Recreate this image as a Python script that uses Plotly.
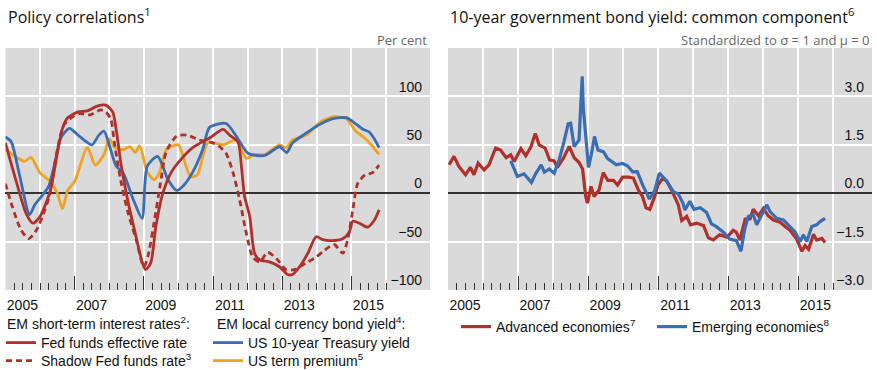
import plotly.graph_objects as go

# ---------------- Policy correlations (per cent) ----------------
FFR_T = [2005.0, 2005.3, 2005.6, 2005.8, 2006.0, 2006.3, 2006.5, 2006.65, 2006.8, 2007.1,
         2007.37, 2007.65, 2007.9, 2008.1, 2008.2, 2008.35, 2008.55, 2008.75, 2008.95, 2009.05,
         2009.2, 2009.35, 2009.55, 2009.8, 2010.1, 2010.45, 2010.9, 2011.29, 2011.48, 2011.72,
         2011.82, 2011.91, 2012.06, 2012.2, 2012.35, 2012.63, 2012.92, 2013.16, 2013.3, 2013.5,
         2013.74, 2013.98, 2014.17, 2014.41, 2014.75, 2014.94, 2015.04, 2015.23, 2015.47, 2015.66,
         2015.8]
FFR_V = [52, 14, -21, -31, -24, 3, 41, 67, 78, 84,
         85, 90, 91, 84, 66, 28, -10, -41, -71, -79,
         -72, -34, 0, 22, 36, 48, 57, 66, 60, 53,
         28, -3, -24, -62, -69, -71, -76, -84, -84, -76,
         -62, -45, -48, -49, -47, -40, -29, -31, -35, -28,
         -17]

SHADOW_T = [2005.0, 2005.2, 2005.45, 2005.67, 2005.9, 2006.07, 2006.27, 2006.5, 2006.7, 2007.1,
            2007.45, 2007.75, 2007.9, 2008.05, 2008.15, 2008.35, 2008.55, 2008.78, 2009.0, 2009.12,
            2009.28, 2009.48, 2009.65, 2009.95, 2010.25, 2010.6, 2011.0, 2011.19, 2011.38, 2011.58,
            2011.77, 2011.96, 2012.15, 2012.35, 2012.58, 2012.87, 2013.11, 2013.35, 2013.69, 2013.98,
            2014.22, 2014.5, 2014.75, 2014.89, 2015.04, 2015.18, 2015.4, 2015.6, 2015.8]
SHADOW_V = [10, -14, -38, -47, -38, -24, -3, 45, 71, 82,
            81, 86, 84, 76, 52, 10, -21, -48, -76, -65,
            -34, 10, 43, 59, 60, 55, 52, 48, 41, 21,
            -7, -41, -66, -71, -61, -69, -79, -79, -72, -66,
            -59, -53, -62, -48, -17, 10, 19, 21, 29]

UST10_T = [2005.0, 2005.17, 2005.4, 2005.7, 2005.85, 2006.05, 2006.25, 2006.45, 2006.6, 2006.85,
           2007.1, 2007.5, 2007.7, 2007.85, 2008.0, 2008.2, 2008.4, 2008.7, 2008.95, 2009.1,
           2009.4, 2009.7, 2009.95, 2010.15, 2010.4, 2010.7, 2010.9, 2011.38, 2011.67, 2012.02,
           2012.5, 2012.92, 2013.13, 2013.3, 2013.69, 2014.13, 2014.47, 2014.85, 2015.04, 2015.33,
           2015.52, 2015.68, 2015.8]
UST10_V = [58, 53, 20, -22, -12, -3, 7, 35, 57, 67,
           60, 50, 60, 64, 50, 28, 21, -7, -26, 28,
           38, 14, 3, 8, 21, 45, 68, 72, 59, 41,
           39, 48, 42, 52, 62, 72, 77, 78, 74, 66,
           63, 55, 47]

TP_T = [2005.0, 2005.2, 2005.55, 2005.74, 2006.0, 2006.3, 2006.5, 2006.65, 2006.8, 2007.0,
        2007.37, 2007.6, 2007.85, 2008.0, 2008.17, 2008.4, 2008.6, 2008.75, 2008.88, 2009.1,
        2009.3, 2009.45, 2009.65, 2009.85, 2010.0, 2010.35, 2010.55, 2010.85, 2011.29, 2011.67,
        2011.96, 2012.2, 2012.5, 2012.92, 2013.11, 2013.3, 2013.69, 2014.13, 2014.51, 2014.85,
        2015.13, 2015.38, 2015.62, 2015.8]
TP_V = [45, 40, 33, 37, 21, 12, 0, -16, 3, 12,
        47, 29, 40, 56, 47, 45, 48, 42, 49, 22,
        14, 21, 45, 49, 50, 17, 19, 52, 50, 55,
        36, 40, 40, 50, 47, 55, 60, 74, 79, 77,
        64, 57, 48, 40]

# ---------------- 10-year bond yield: common component ----------------
ADV_T = [2005.03, 2005.17, 2005.31, 2005.5, 2005.64, 2005.74, 2005.86, 2006.03, 2006.17, 2006.36,
         2006.5, 2006.66, 2006.79, 2006.89, 2007.08, 2007.22, 2007.36, 2007.49, 2007.6, 2007.77,
         2007.9, 2008.03, 2008.12, 2008.29, 2008.46, 2008.6, 2008.74, 2008.84, 2008.93, 2008.98,
         2009.08, 2009.17, 2009.31, 2009.43, 2009.56, 2009.72, 2009.84, 2009.98, 2010.15, 2010.29,
         2010.43, 2010.55, 2010.65, 2010.76, 2010.9, 2010.99, 2011.12, 2011.24, 2011.4, 2011.57,
         2011.67, 2011.81, 2011.92, 2012.1, 2012.29, 2012.43, 2012.57, 2012.75, 2012.96, 2013.14,
         2013.22, 2013.33, 2013.48, 2013.62, 2013.71, 2013.86, 2014.0, 2014.14, 2014.29, 2014.48,
         2014.62, 2014.76, 2014.95, 2015.1, 2015.19, 2015.29, 2015.43, 2015.52, 2015.67, 2015.76]
ADV_V = [0.88, 1.14, 0.83, 0.57, 0.8, 0.57, 0.93, 0.72, 0.88, 1.4,
         1.34, 1.1, 1.19, 0.98, 1.38, 1.16, 1.42, 1.85, 1.5, 1.4,
         1.03, 1.0, 0.8, 1.08, 1.45, 1.1, 0.95, 0.75, -0.1, -0.31,
         0.21, -0.1, 0.1, 0.64, 0.4, 0.4, 0.25, 0.5, 0.5, 0.47,
         0.1, -0.1, -0.45, -0.5, -0.1, 0.25, 0.45, 0.38, 0.05, -0.35,
         -0.85, -0.72, -0.98, -0.93, -1.0, -1.38, -1.45, -1.29, -1.36, -1.15,
         -1.2, -1.45, -0.8, -0.8, -0.5, -0.7, -0.47, -0.7, -0.83, -0.9,
         -1.03, -1.15, -1.42, -1.8, -1.62, -1.74, -1.27, -1.45, -1.4, -1.53]

EME_T = [2006.79, 2006.9, 2006.98, 2007.17, 2007.38, 2007.5, 2007.66, 2007.75, 2007.89, 2008.03,
         2008.17, 2008.31, 2008.43, 2008.5, 2008.6, 2008.74, 2008.83, 2008.86, 2008.93, 2009.01,
         2009.09, 2009.18, 2009.28, 2009.44, 2009.55, 2009.65, 2009.8, 2009.98, 2010.12, 2010.27,
         2010.4, 2010.56, 2010.75, 2010.9, 2011.03, 2011.24, 2011.43, 2011.57, 2011.7, 2011.76,
         2011.9, 2012.02, 2012.2, 2012.38, 2012.52, 2012.65, 2012.85, 2013.04, 2013.23, 2013.36,
         2013.47, 2013.57, 2013.71, 2013.81, 2013.95, 2014.1, 2014.19, 2014.38, 2014.57, 2014.71,
         2014.9, 2015.05, 2015.14, 2015.24, 2015.38, 2015.52, 2015.62, 2015.76]
EME_V = [1.0, 0.7, 0.52, 0.6, 0.33, 0.6, 0.88, 0.65, 0.75, 0.62,
         1.03, 1.6, 2.15, 2.17, 1.45, 1.65, 3.62, 2.65, 1.65, 0.8,
         1.2, 1.76, 1.34, 1.28, 1.08, 1.0, 0.88, 0.92, 0.85, 0.66,
         0.67, 0.24, -0.18, 0.08, 0.62, 0.38, 0.05, -0.02, -0.3, -0.52,
         -0.25, -0.5, -0.45, -0.6, -0.95, -1.03, -1.2, -1.42, -1.47, -1.8,
         -1.1, -0.72, -0.67, -0.98, -0.67, -0.36, -0.57, -0.78, -0.83, -0.98,
         -1.19, -1.5, -1.29, -1.5, -1.03, -0.98, -0.88, -0.78]

# ---------------- axis labelling ----------------
YEARS = list(range(2005, 2017))
YEAR_LABELS = [str(y) if y % 2 == 1 else "" for y in YEARS]
QUARTERS = [2005 + 0.25 * i for i in range(45)]
LEFT_TICKS = [-100, -50, 0, 50, 100]
LEFT_TICKTEXT = ["\u2212100", "\u221250", "0", "50", "100"]
RIGHT_TICKS = [-3.0, -1.5, 0.0, 1.5, 3.0]
RIGHT_TICKTEXT = ["\u22123.0", "\u22121.5", "0.0", "1.5", "3.0"]

RED = "#B0302C"
BLUE = "#3A6DB3"
ORANGE = "#EFA31F"
BG = "#DADADA"
W, H = 877, 370
SANS = "Liberation Sans, Arial, sans-serif"
TITLE_FONT = "Open Sans, Noto Sans, sans-serif"

fig = go.Figure()

# left panel (each series gets its own one-row legend so rows can be placed freely)
fig.add_trace(go.Scatter(x=TP_T, y=TP_V, mode="lines", name="US term premium<sup>5</sup>",
                         line=dict(color=ORANGE, width=2.8, shape="spline", smoothing=0.7),
                         legend="legend4", xaxis="x", yaxis="y"))
fig.add_trace(go.Scatter(x=UST10_T, y=UST10_V, mode="lines", name="US 10-year Treasury yield",
                         line=dict(color=BLUE, width=2.8, shape="spline", smoothing=0.7),
                         legend="legend3", xaxis="x", yaxis="y"))
fig.add_trace(go.Scatter(x=SHADOW_T, y=SHADOW_V, mode="lines", name="Shadow Fed funds rate<sup>3</sup>",
                         line=dict(color=RED, width=2.8, dash="6px,4px", shape="spline", smoothing=0.7),
                         legend="legend2", xaxis="x", yaxis="y"))
fig.add_trace(go.Scatter(x=FFR_T, y=FFR_V, mode="lines", name="Fed funds effective rate",
                         line=dict(color=RED, width=2.8, shape="spline", smoothing=0.7),
                         legend="legend", xaxis="x", yaxis="y"))

# right panel
fig.add_trace(go.Scatter(x=ADV_T, y=ADV_V, mode="lines", name="Advanced economies<sup>7</sup>",
                         line=dict(color=RED, width=3.2),
                         legend="legend5", xaxis="x2", yaxis="y2"))
fig.add_trace(go.Scatter(x=EME_T, y=EME_V, mode="lines", name="Emerging economies<sup>8</sup>",
                         line=dict(color=BLUE, width=3.2),
                         legend="legend6", xaxis="x2", yaxis="y2"))

y_dom = [1 - 290 / H, 1 - 48 / H]


def xaxis_style(domain, rng, anchor):
    return dict(
        domain=domain, range=rng, anchor=anchor,
        tickmode="array", tickvals=YEARS, ticktext=YEAR_LABELS,
        ticks="inside", ticklen=14, tickwidth=1, tickcolor="#333",
        ticklabelshift=17, ticklabelstandoff=5,
        tickfont=dict(family=SANS, size=14, color="#111"),
        showgrid=True, gridcolor="white", gridwidth=1.6,
        zeroline=False, showline=False, fixedrange=True,
        minor=dict(tickmode="array", tickvals=QUARTERS, ticks="inside",
                   ticklen=7, tickwidth=1, tickcolor="#333", showgrid=False),
    )


def yaxis_style(rng, vals, text, anchor):
    return dict(
        domain=y_dom, range=rng, anchor=anchor, side="right",
        tickmode="array", tickvals=vals, ticktext=text,
        ticks="", ticklabelposition="inside top", ticklabelstandoff=5,
        tickfont=dict(family=SANS, size=14, color="#111"),
        showgrid=True, gridcolor="white", gridwidth=1.6,
        zeroline=True, zerolinecolor="#333", zerolinewidth=1.6,
        showline=False, fixedrange=True,
    )


legend_font = dict(family=SANS, size=14, color="#111")


def one_row_legend(left_px, top_px):
    return dict(x=left_px / W, y=1 - top_px / H, xanchor="left", yanchor="top",
                orientation="h", font=legend_font, bgcolor="rgba(0,0,0,0)")


def header(text, left_px, mid_px):
    return dict(text=text, x=left_px / W, y=1 - mid_px / H, xref="paper", yref="paper",
                xanchor="left", yanchor="middle", showarrow=False, font=legend_font)


fig.update_layout(
    width=W, height=H,
    margin=dict(l=0, r=0, t=0, b=0, autoexpand=False),
    paper_bgcolor="white", plot_bgcolor=BG,
    xaxis=xaxis_style([5.4 / W, 430 / W], [2005, 2017.27], "y"),
    yaxis=yaxis_style([-100, 150], LEFT_TICKS, LEFT_TICKTEXT, "x"),
    xaxis2=xaxis_style([448 / W, 872 / W], [2005, 2017.1], "y2"),
    yaxis2=yaxis_style([-3, 4.5], RIGHT_TICKS, RIGHT_TICKTEXT, "x2"),
    legend=one_row_legend(1, 327),
    legend2=one_row_legend(1, 345),
    legend3=one_row_legend(208, 327),
    legend4=one_row_legend(208, 345),
    legend5=one_row_legend(456, 311),
    legend6=one_row_legend(652, 311),
    showlegend=True,
    annotations=[
        dict(text="Policy correlations<sup>1</sup>", x=6 / W, y=1 - 15.5 / H, xref="paper", yref="paper",
             xanchor="left", yanchor="middle", showarrow=False,
             font=dict(family=TITLE_FONT, size=16, color="#111")),
        dict(text="Per cent", x=429 / W, y=1 - 40 / H, xref="paper", yref="paper",
             xanchor="right", yanchor="middle", showarrow=False,
             font=dict(family=TITLE_FONT, size=13, color="#666")),
        dict(text="10-year government bond yield: common component<sup>6</sup>", x=448 / W, y=1 - 15.5 / H,
             xref="paper", yref="paper", xanchor="left", yanchor="middle", showarrow=False,
             font=dict(family=TITLE_FONT, size=16, color="#111")),
        dict(text="Standardized to \u03c3 = 1 and \u03bc = 0", x=871 / W, y=1 - 40 / H, xref="paper",
             yref="paper", xanchor="right", yanchor="middle", showarrow=False,
             font=dict(family=TITLE_FONT, size=13, color="#666")),
        header("EM short-term interest rates<sup>2</sup>:", 5, 323),
        header("EM local currency bond yield<sup>4</sup>:", 215, 323),
    ],
)

fig.write_html("out.html", config={"displayModeBar": False})
